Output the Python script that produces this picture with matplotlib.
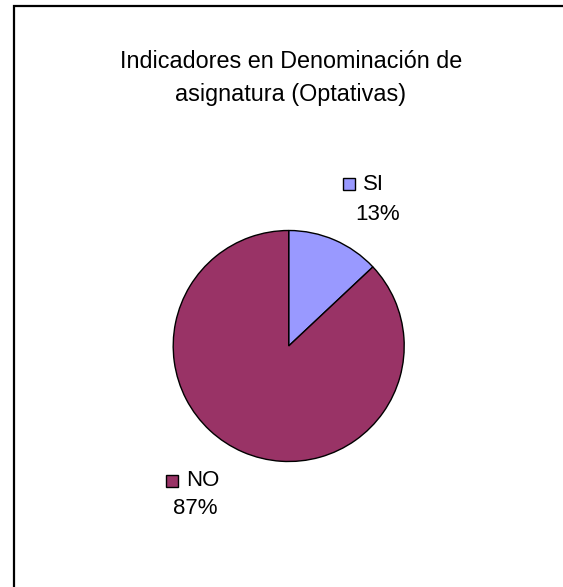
import matplotlib
matplotlib.use("Agg")
import matplotlib.pyplot as plt
from matplotlib.patches import Rectangle

plt.rcParams['font.family'] = ['Liberation Sans', 'DejaVu Sans']

title = "Indicadores en Denominación de\nasignatura (Optativas)"
labels = ["SI", "NO"]
values = [13, 87]
colors = ["#9999FF", "#993366"]

W, H = 563, 587
fig = plt.figure(figsize=(W / 100, H / 100), dpi=100)
ax = fig.add_axes([0, 0, 1, 1])

# outer frame (runs off the right/bottom of the image)
ax.add_patch(Rectangle((14, -20), W + 20, H - 6 + 20, fill=False,
                       edgecolor="black", lw=1.6, zorder=5))

ax.pie(values, colors=colors, startangle=90, counterclock=False,
       center=(288.7, H - 346), radius=115.5,
       wedgeprops=dict(edgecolor="black", linewidth=1.0))
ax.set_xlim(0, W)
ax.set_ylim(0, H)
ax.set_aspect("auto")
ax.axis("off")

fs = 16
ax.text(291, H - 78, title, ha="center", va="center", fontsize=16.8,
        linespacing=1.5)

total = sum(values)
# key position, percent-text centre
label_pos = [((348.5, 184), (377.5, 214)), ((172, 481), (195.5, 508))]
for ((x, y), (px, py)), lab, v, c in zip(label_pos, labels, values, colors):
    ax.add_patch(Rectangle((x - 6, H - y - 6), 12, 12, facecolor=c,
                           edgecolor="black", lw=1.0))
    ax.text(x + 14, H - y, lab, ha="left", va="center", fontsize=fs)
    ax.text(px, H - py, f"{round(100 * v / total)}%", ha="center",
            va="center", fontsize=fs)

fig.savefig("out.png", dpi=100, facecolor="white")
